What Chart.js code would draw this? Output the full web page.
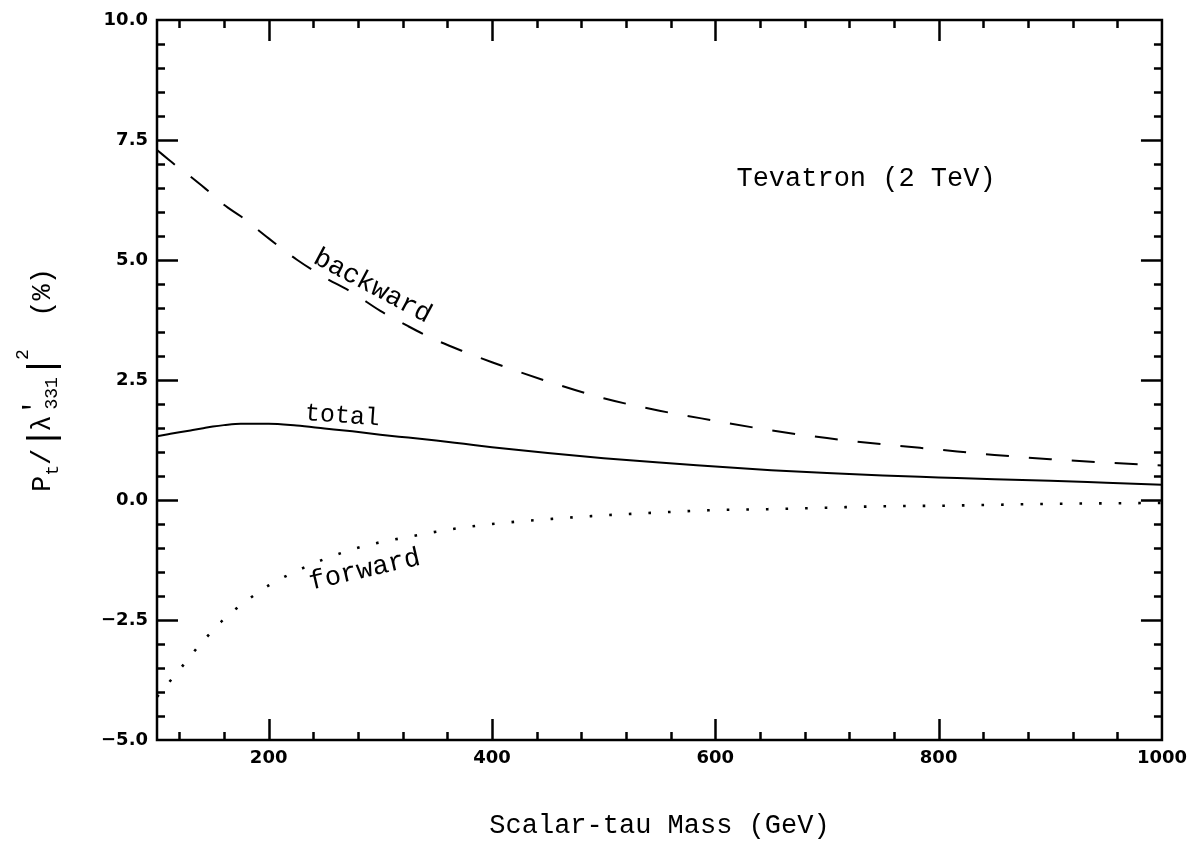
<!DOCTYPE html>
<html>
<head>
<meta charset="utf-8">
<title>Scalar-tau mass dependence of top polarization</title>
<script src="https://cdn.jsdelivr.net/npm/chart.js@4.4.1/dist/chart.umd.min.js"></script>
<style>
  html, body { margin: 0; padding: 0; background: #fff; }
  canvas { display: block; }
</style>
</head>
<body>
<canvas id="c" width="1195" height="842"></canvas>
<script>
// Scalar-tau mass (GeV)
const massGeV = [100, 110, 120, 130, 140, 150, 160, 175, 200, 225, 250, 275, 300, 325, 350, 375, 400,
                 450, 500, 550, 600, 650, 700, 750, 800, 850, 900, 950, 1000];

// P_t / |lambda'_331|^2 in percent
const backward = [7.29, 7.10, 6.91, 6.74, 6.55, 6.36, 6.15, 5.91, 5.45, 5.01, 4.64, 4.32, 3.94, 3.62, 3.33, 3.09, 2.87,
                  2.47, 2.12, 1.86, 1.65, 1.45, 1.29, 1.16, 1.05, 0.94, 0.85, 0.78, 0.72];
const total    = [1.33, 1.37, 1.41, 1.45, 1.49, 1.53, 1.56, 1.59, 1.59, 1.55, 1.49, 1.43, 1.36, 1.30, 1.24, 1.17, 1.10,
                  0.98, 0.87, 0.78, 0.70, 0.62, 0.56, 0.51, 0.47, 0.43, 0.40, 0.36, 0.32];
const forward  = [-4.10, -3.82, -3.54, -3.25, -2.97, -2.72, -2.48, -2.19, -1.78, -1.48, -1.23, -1.03, -0.88, -0.77, -0.66, -0.57, -0.50,
                  -0.40, -0.32, -0.26, -0.21, -0.19, -0.16, -0.13, -0.12, -0.10, -0.08, -0.07, -0.06];

// Axis ticks
const xTickValues = [200, 400, 600, 800, 1000];
const yTickValues = [-5, -2.5, 0, 2.5, 5, 7.5, 10];

const MONO = '"Liberation Mono", "Courier New", monospace';
const TICKFONT = { family: '"DejaVu Sans", sans-serif', size: 18, weight: 'bold' };

function pts(ys) { return massGeV.map((m, i) => ({ x: m, y: ys[i] })); }

// Frame with inward major/minor ticks on all four sides, plus curve labels
const framePlugin = {
  id: 'frame',
  afterDatasetsDraw(chart) {
    const { ctx, chartArea: a, scales: { x, y } } = chart;
    ctx.save();
    ctx.strokeStyle = '#000';
    ctx.lineWidth = 2.5;
    ctx.lineCap = 'butt';
    ctx.strokeRect(a.left, a.top, a.right - a.left, a.bottom - a.top);

    const MAJ = 21, MIN = 8;
    ctx.beginPath();
    for (let v = 120; v < 1000; v += 40) {
      const px = Math.round(x.getPixelForValue(v)) + 0.5;
      const len = (v % 200 === 0) ? MAJ : MIN;
      ctx.moveTo(px, a.bottom); ctx.lineTo(px, a.bottom - len);
      ctx.moveTo(px, a.top); ctx.lineTo(px, a.top + len);
    }
    for (let k = -9; k < 20; k++) {
      const v = k * 0.5;
      const py = Math.round(y.getPixelForValue(v)) + 0.5;
      const len = (k % 5 === 0) ? MAJ : MIN;
      ctx.moveTo(a.left, py); ctx.lineTo(a.left + len, py);
      ctx.moveTo(a.right, py); ctx.lineTo(a.right - len, py);
    }
    ctx.stroke();

    // curve labels
    const label = (text, m, v, deg, size) => {
      ctx.save();
      ctx.translate(x.getPixelForValue(m), y.getPixelForValue(v));
      ctx.rotate(deg * Math.PI / 180);
      ctx.font = size + 'px ' + MONO;
      ctx.fillStyle = '#000';
      ctx.textAlign = 'center';
      ctx.textBaseline = 'middle';
      ctx.fillText(text, 0, 0);
      ctx.restore();
    };
    label('backward', 293, 4.45, 28, 27);
    label('total', 266, 1.75, 4, 25);
    label('forward', 286, -1.46, -13, 27);
    label('Tevatron (2 TeV)', 735, 6.69, 0, 27);
    ctx.restore();
  },
  afterDraw(chart) {
    // rotated y-axis title with sub/superscripts
    const { ctx, chartArea: a } = chart;
    const cy = (a.top + a.bottom) / 2;
    const cx = 50;
    const big = 27, small = 18;
    const parts = [
      { t: 'P', s: big, dy: 0 },
      { t: 't', s: small, dy: 8 },
      { t: '/', s: big, dy: 0 },
      { t: '|', s: 36, dy: 3, adv: 0.8 },
      { t: 'λ', s: big, dy: 0 },
      { t: '\u2032', s: big, dy: -8, adv: 0.35 },
      { t: '331', s: small, dy: 7 },
      { t: '|', s: 36, dy: 3, adv: 0.8 },
      { t: '2', s: small, dy: -22 },
      { t: '  (%)', s: big, dy: 0 }
    ];
    ctx.save();
    ctx.translate(cx, cy);
    ctx.rotate(-Math.PI / 2);
    ctx.fillStyle = '#000';
    ctx.textBaseline = 'alphabetic';
    ctx.textAlign = 'left';
    let total = 0;
    parts.forEach(p => {
      ctx.font = p.s + 'px ' + MONO;
      p.w = ctx.measureText(p.t).width;
      p.step = p.adv !== undefined ? p.w * p.adv : p.w;
      total += p.step;
    });
    let xx = -total / 2;
    parts.forEach(p => {
      ctx.font = p.s + 'px ' + MONO;
      ctx.fillText(p.t, xx, p.dy);
      xx += p.step;
    });
    ctx.restore();
  }
};

new Chart(document.getElementById('c'), {
  type: 'scatter',
  data: {
    datasets: [
      { label: 'backward', data: pts(backward), showLine: true, borderColor: '#000', borderWidth: 2,
        borderDash: [23, 20], pointRadius: 0, cubicInterpolationMode: 'monotone' },
      { label: 'total', data: pts(total), showLine: true, borderColor: '#000', borderWidth: 2,
        pointRadius: 0, cubicInterpolationMode: 'monotone' },
      { label: 'forward', data: pts(forward), showLine: true, borderColor: '#000', borderWidth: 2.6,
        borderDash: [2.6, 17], pointRadius: 0, cubicInterpolationMode: 'monotone' }
    ]
  },
  options: {
    responsive: false,
    devicePixelRatio: 1,
    animation: false,
    layout: { padding: { top: 20, right: 30, left: 0, bottom: 0 } },
    plugins: { legend: { display: false }, tooltip: { enabled: false } },
    scales: {
      x: {
        type: 'linear', min: 100, max: 1000,
        afterFit: s => { s.height = 102; },
        afterBuildTicks: s => { s.ticks = xTickValues.map(v => ({ value: v })); },
        grid: { display: false, drawTicks: false },
        border: { display: false },
        ticks: { color: '#000', font: TICKFONT, padding: 8, autoSkip: false, maxRotation: 0,
                 callback: v => String(v) },
        title: { display: true, text: 'Scalar-tau Mass (GeV)', color: '#000',
                 font: { family: MONO, size: 27 }, padding: { top: 0, bottom: 0 } }
      },
      y: {
        type: 'linear', min: -5, max: 10,
        afterFit: s => { s.width = 157; },
        afterBuildTicks: s => { s.ticks = yTickValues.map(v => ({ value: v })); },
        grid: { display: false, drawTicks: false },
        border: { display: false },
        ticks: { color: '#000', font: TICKFONT, padding: 9, autoSkip: false,
                 callback: v => v.toFixed(1).replace('-', '\u2212') }
      }
    }
  },
  plugins: [framePlugin]
});
</script>
</body>
</html>
